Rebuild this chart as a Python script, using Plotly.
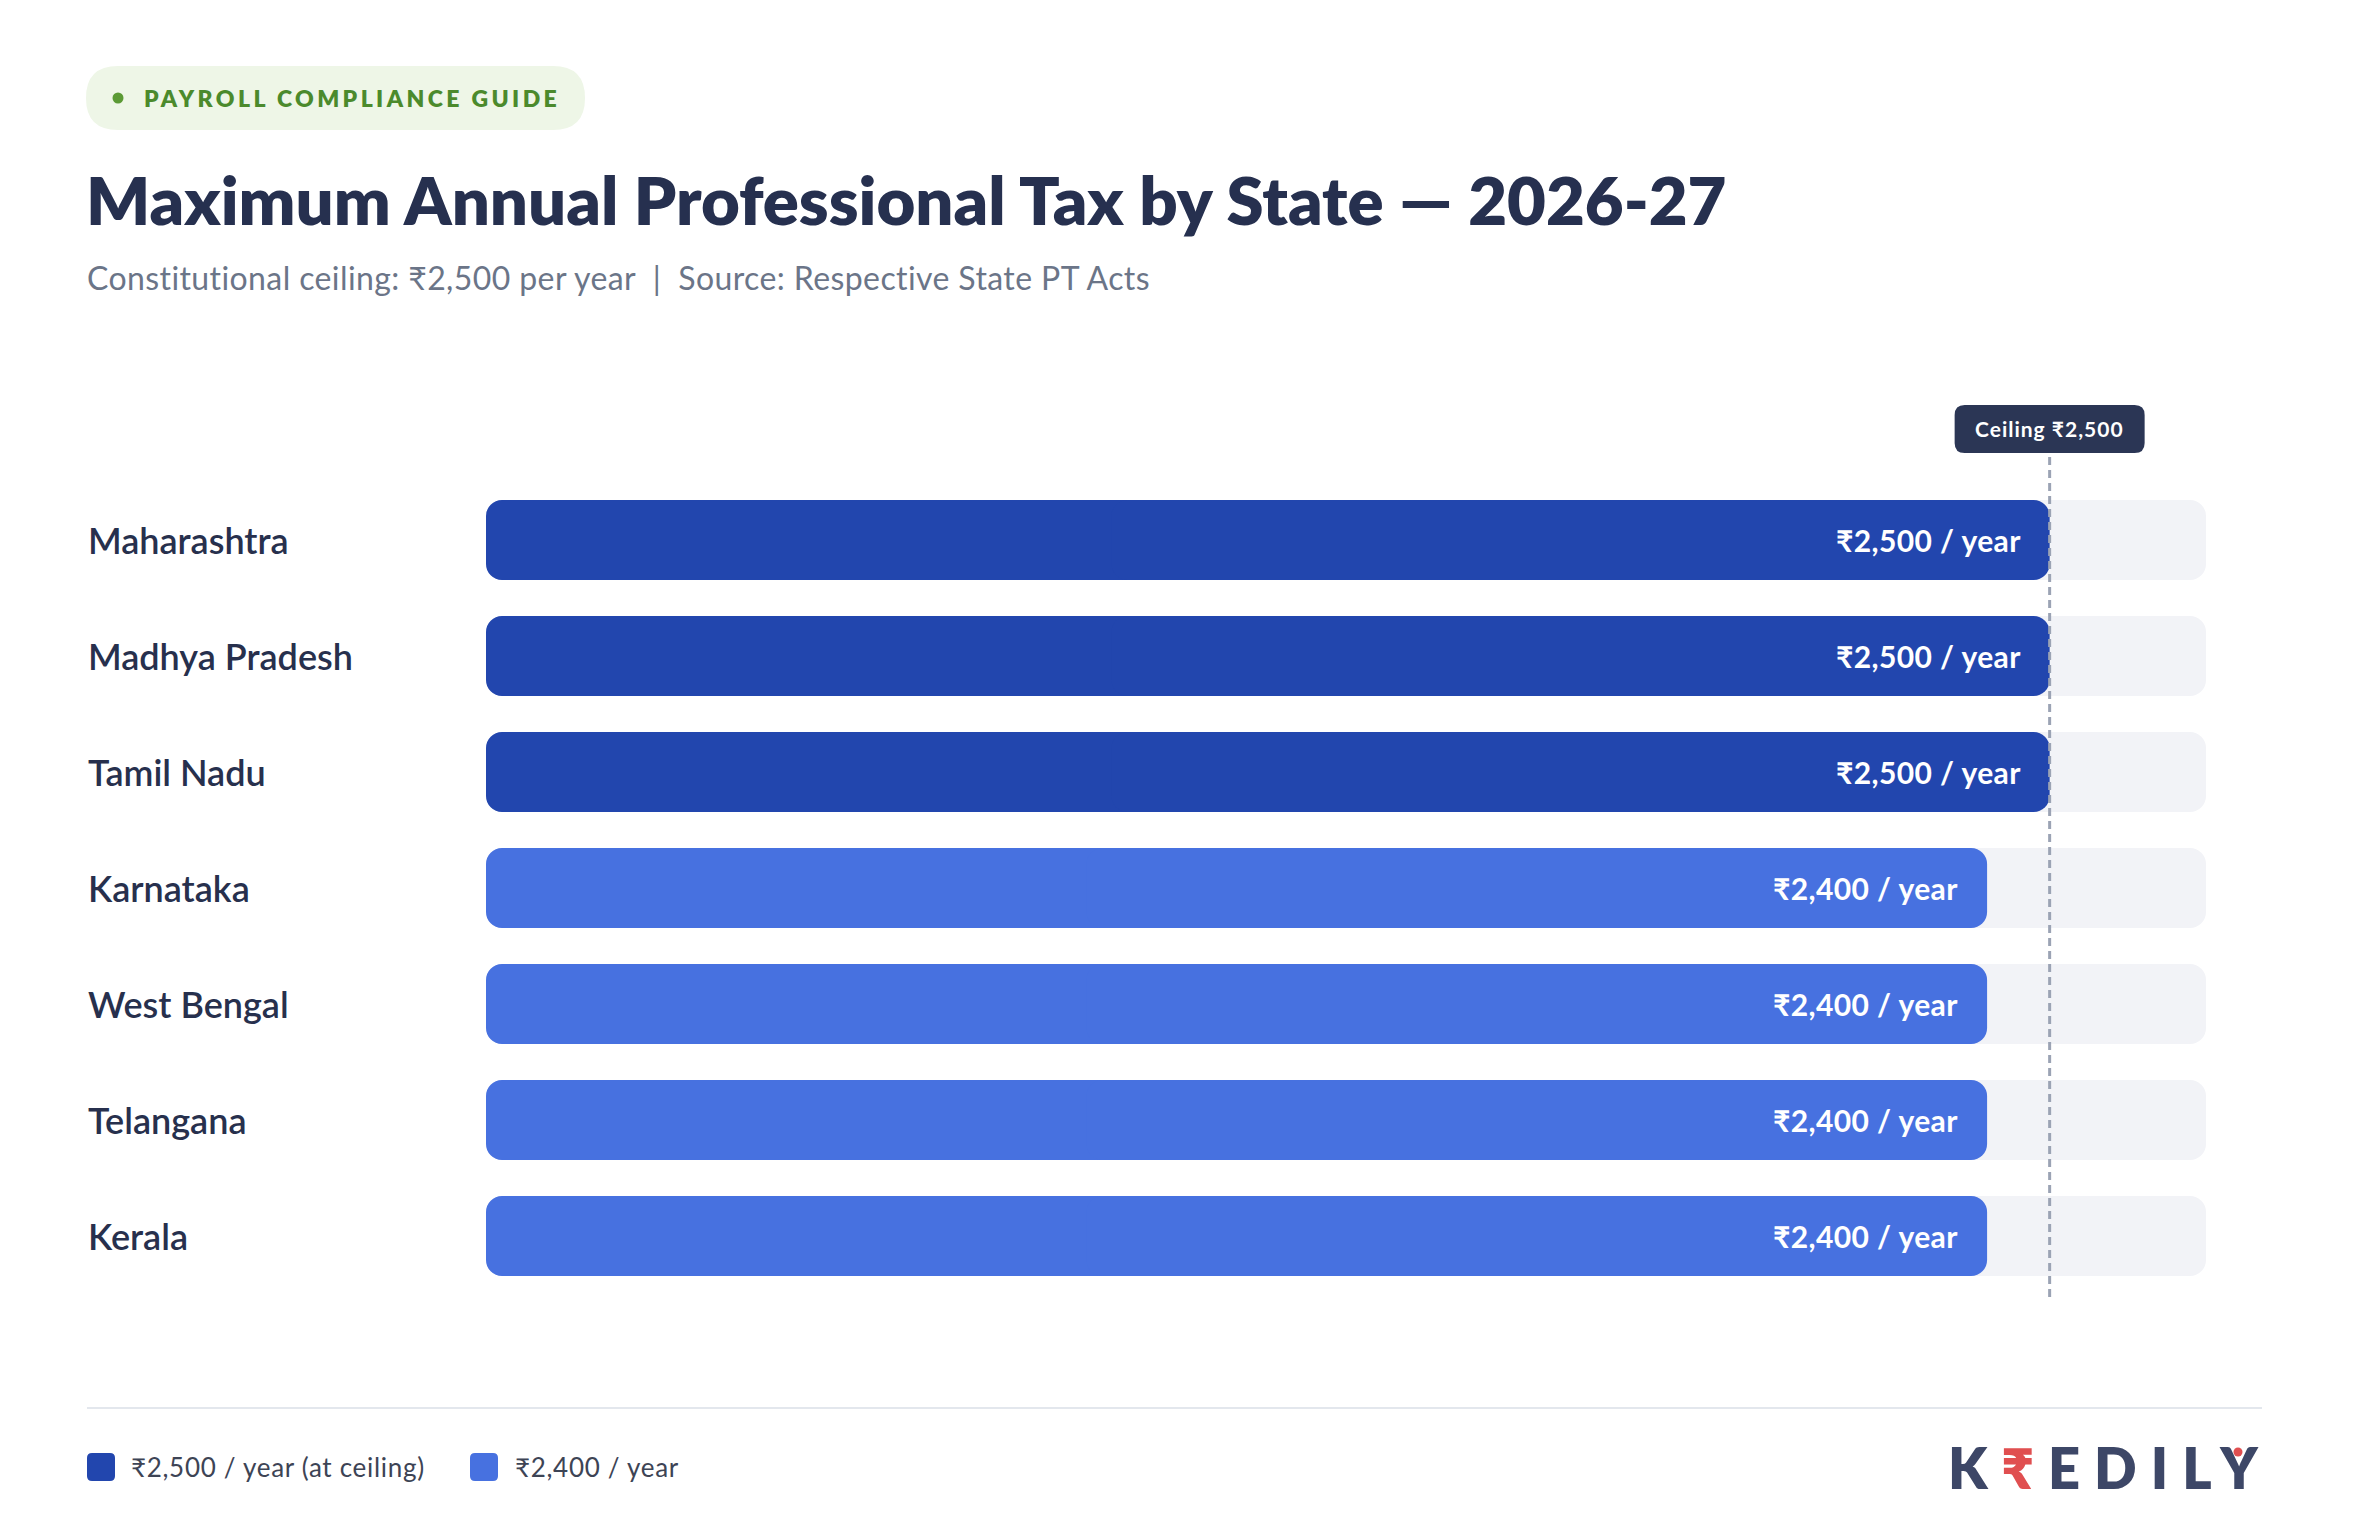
import plotly.graph_objects as go

# ---------------- data ----------------
states = ["Maharashtra", "Madhya Pradesh", "Tamil Nadu", "Karnataka",
          "West Bengal", "Telangana", "Kerala"]
annual_tax = [2500, 2500, 2500, 2400, 2400, 2400, 2400]
ceiling = 2500
legend_labels = ["₹2,500 / year (at ceiling)", "₹2,400 / year"]

# ---------------- styling ----------------
W, H = 2364, 1534
C_CEIL = "#2246AE"
C_LOW = "#4771E0"
C_TRACK = "#F2F3F7"
C_TEXT = "#27304D"
FONT = "Lato"

def px(x):
    return x / W

def py(y):
    return 1 - y / H

def spaced(text, ls):
    return f"<span style='letter-spacing:{ls}px'>{text}</span>"

track_max = ceiling * 1.1
colors = [C_CEIL if v >= ceiling else C_LOW for v in annual_tax]

fig = go.Figure()

def rounded_bar(values, color_list, name):
    # two overlapping halves so both ends get rounded corners
    fig.add_trace(go.Bar(
        y=states, x=[-v * 0.5 for v in values], base=[v * 0.5 for v in values],
        orientation="h", marker=dict(color=color_list, cornerradius=16, line=dict(width=0)),
        hoverinfo="skip", showlegend=False, name=name))
    fig.add_trace(go.Bar(
        y=states, x=[v * 0.6 for v in values], base=[v * 0.4 for v in values],
        orientation="h", marker=dict(color=color_list, cornerradius=16, line=dict(width=0)),
        hoverinfo="skip", showlegend=False, name=name))

rounded_bar([track_max] * len(states), [C_TRACK] * len(states), "track")
rounded_bar(annual_tax, colors, "tax")

annotations = []
for s, v in zip(states, annual_tax):
    annotations.append(dict(
        x=px(86), xref="paper", y=s, yref="y", xanchor="left", yanchor="middle",
        text=s, showarrow=False, font=dict(family=FONT, size=36, color=C_TEXT, weight=600)))
    annotations.append(dict(
        x=v, xref="x", y=s, yref="y", xanchor="right", yanchor="middle", xshift=-27,
        text=spaced(f"₹{v:,} / year", 0.4), showarrow=False,
        font=dict(family=FONT, size=30, color="white", weight=700)))

# ceiling label
annotations.append(dict(
    x=ceiling, xref="x", y=py(429), yref="paper", xanchor="center", yanchor="middle",
    text=spaced(f"Ceiling ₹{ceiling:,}", 1), showarrow=False,
    font=dict(family=FONT, size=21, color="white", weight=700)))

# header
annotations += [
    dict(x=px(142), y=py(98), xref="paper", yref="paper", xanchor="left", yanchor="middle",
         text=spaced("PAYROLL COMPLIANCE GUIDE", 3.4), showarrow=False,
         font=dict(family=FONT, size=23, color="#4B8A2C", weight=800)),
    dict(x=px(84), y=py(199), xref="paper", yref="paper", xanchor="left", yanchor="middle",
         text="Maximum Annual Professional Tax by State — 2026-27", showarrow=False,
         font=dict(family=FONT, size=67, color="#26304F", weight=800)),
    dict(x=px(85), y=py(277), xref="paper", yref="paper", xanchor="left", yanchor="middle",
         text=spaced("Constitutional ceiling: ₹2,500 per year  |  Source: Respective State PT Acts", 0.4),
         showarrow=False, font=dict(family=FONT, size=32, color="#6B7588")),
]

# legend
annotations += [
    dict(x=px(129), y=py(1467), xref="paper", yref="paper", xanchor="left", yanchor="middle",
         text=spaced(legend_labels[0], 0.7), showarrow=False,
         font=dict(family=FONT, size=26, color="#3D4455")),
    dict(x=px(513), y=py(1467), xref="paper", yref="paper", xanchor="left", yanchor="middle",
         text=spaced(legend_labels[1], 0.7), showarrow=False,
         font=dict(family=FONT, size=26, color="#3D4455")),
]

# logo
annotations.append(dict(
    x=px(1946), y=py(1467), xref="paper", yref="paper", xanchor="left", yanchor="middle",
    text="<span style='letter-spacing:14px'>K<span style='color:#E04F50'>₹</span>EDILY</span>",
    showarrow=False, font=dict(family=FONT, size=56, color="#3D4767", weight=800)))


def rrect(hw, hh, r):
    return (f"M {-hw + r},{-hh} L {hw - r},{-hh} Q {hw},{-hh} {hw},{-hh + r} "
            f"L {hw},{hh - r} Q {hw},{hh} {hw - r},{hh} L {-hw + r},{hh} "
            f"Q {-hw},{hh} {-hw},{hh - r} L {-hw},{-hh + r} Q {-hw},{-hh} {-hw + r},{-hh} Z")

shapes = [
    # badge pill
    dict(type="path", xref="paper", yref="paper", xsizemode="pixel", ysizemode="pixel",
         xanchor=px(335.5), yanchor=py(98), path=rrect(249.5, 32, 32),
         fillcolor="#EEF6E7", line=dict(width=0), layer="below"),
    dict(type="circle", xref="paper", yref="paper", xsizemode="pixel", ysizemode="pixel",
         xanchor=px(118), yanchor=py(98), x0=-5.5, x1=5.5, y0=-5.5, y1=5.5,
         fillcolor="#5B9A35", line=dict(width=0)),
    # ceiling line
    dict(type="line", xref="x", yref="paper", x0=ceiling, x1=ceiling, y0=py(457), y1=py(1297),
         line=dict(color="#9BA3B4", width=3, dash="8px,5px"), layer="above"),
    # ceiling label box
    dict(type="path", xref="x", yref="paper", xsizemode="pixel", ysizemode="pixel",
         xanchor=ceiling, yanchor=py(429), path=rrect(95, 24, 10),
         fillcolor="#2B3655", line=dict(width=0), layer="above"),
    # separator
    dict(type="line", xref="paper", yref="paper", x0=px(87), x1=px(2262), y0=py(1408), y1=py(1408),
         line=dict(color="#E3E7ED", width=2)),
    # legend swatches
    dict(type="path", xref="paper", yref="paper", xsizemode="pixel", ysizemode="pixel",
         xanchor=px(101), yanchor=py(1467), path=rrect(14, 14, 5),
         fillcolor=C_CEIL, line=dict(width=0)),
    dict(type="path", xref="paper", yref="paper", xsizemode="pixel", ysizemode="pixel",
         xanchor=px(484), yanchor=py(1467), path=rrect(14, 14, 5),
         fillcolor=C_LOW, line=dict(width=0)),
    # logo dot
    dict(type="circle", xref="paper", yref="paper", xsizemode="pixel", ysizemode="pixel",
         xanchor=px(2238), yanchor=py(1452), x0=-4.5, x1=4.5, y0=-4.5, y1=4.5,
         fillcolor="#E04F50", line=dict(width=0)),
]

fig.update_layout(
    width=W, height=H, margin=dict(l=0, r=0, t=0, b=0),
    paper_bgcolor="white", plot_bgcolor="white",
    barmode="overlay", bargap=0.31,
    showlegend=False,
    xaxis=dict(domain=[px(486), px(2206)], range=[0, track_max], visible=False, fixedrange=True),
    yaxis=dict(domain=[py(1294), py(482)], categoryorder="array", categoryarray=states,
               range=[len(states) - 0.5, -0.5], visible=False, fixedrange=True),
    annotations=annotations, shapes=shapes,
)

fig.write_html("out.html", config={"displayModeBar": False})
